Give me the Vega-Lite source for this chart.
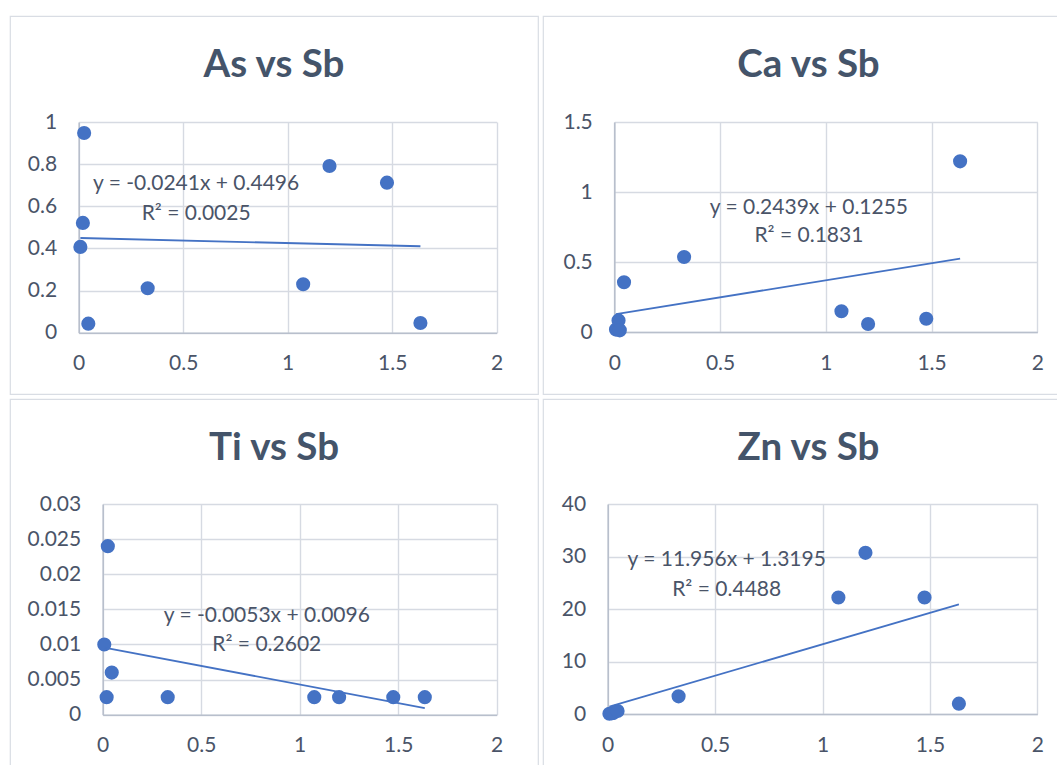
{
  "$schema": "https://vega.github.io/schema/vega-lite/v6.json",
  "background": "white",
  "padding": {"left": 9, "top": 15, "right": 0, "bottom": 0},
  "spacing": 3,
  "datasets": {
    "samples": [
      {"Sb": 0.008, "As": 0.407, "Ca": 0.017, "Ti": 0.010, "Zn": 0.05},
      {"Sb": 0.02, "As": 0.521, "Ca": 0.083, "Ti": 0.0025, "Zn": 0.15},
      {"Sb": 0.026, "As": 0.948, "Ca": 0.012, "Ti": 0.024, "Zn": 0.2},
      {"Sb": 0.046, "As": 0.043, "Ca": 0.355, "Ti": 0.006, "Zn": 0.57},
      {"Sb": 0.33, "As": 0.211, "Ca": 0.536, "Ti": 0.0025, "Zn": 3.37},
      {"Sb": 1.074, "As": 0.230, "Ca": 0.148, "Ti": 0.0025, "Zn": 22.2},
      {"Sb": 1.2, "As": 0.791, "Ca": 0.057, "Ti": 0.0025, "Zn": 30.7},
      {"Sb": 1.475, "As": 0.712, "Ca": 0.095, "Ti": 0.0025, "Zn": 22.2},
      {"Sb": 1.635, "As": 0.046, "Ca": 1.219, "Ti": 0.0025, "Zn": 1.97}
    ]
  },
  "config": {
    "font": "Lato",
    "view": {"stroke": "#d9dde4", "strokeWidth": 1.2},
    "axis": {
      "gridColor": "#d6dae2", "gridWidth": 1.4,
      "domainColor": "#b8bfcc", "domainWidth": 1.6,
      "ticks": false, "labelFont": "Lato", "labelFontSize": 21,
      "labelColor": "#4a5468", "format": "~r", "labelOverlap": false, "labelFlush": false
    },
    "axisY": {"labelPadding": 22},
    "axisX": {"labelPadding": 20},
    "title": {"font": "Lato", "fontSize": 38.5, "fontWeight": "bold", "color": "#44546a", "anchor": "middle", "baseline": "alphabetic", "offset": -69}
  },
  "vconcat": [
    {
      "spacing": 3,
      "hconcat": [
        {
          "width": 528, "height": 378,
          "title": {"text": "As vs Sb"},
          "resolve": {"axis": {"x": "independent"}},
          "layer": [
            {"data": {"name": "samples"}, "mark": {"type": "circle", "size": 200, "color": "#4472c4", "opacity": 1},
             "encoding": {
               "x": {"field": "Sb", "type": "quantitative", "scale": {"domain": [0, 2], "range": [68.7, 486.7], "nice": false, "zero": false}, "axis": {"orient": "bottom", "values": [0, 0.5, 1, 1.5, 2], "offset": -61.3, "grid": false, "title": null}},
               "y": {"field": "As", "type": "quantitative", "scale": {"domain": [0, 1], "range": [316.7, 106], "nice": false, "zero": false}, "axis": {"values": [0, 0.2, 0.4, 0.6, 0.8, 1], "offset": -68.7, "grid": true, "title": null}}
             }},
            {"data": {"values": [{"Sb": 0.008, "As": 0.4494}, {"Sb": 1.635, "As": 0.4102}]}, "mark": {"type": "line", "color": "#4472c4", "strokeWidth": 1.8},
             "encoding": {
               "x": {"field": "Sb", "type": "quantitative", "scale": {"domain": [0, 2], "range": [68.7, 486.7], "nice": false, "zero": false}, "axis": {"orient": "top", "values": [0, 0.5, 1, 1.5, 2], "offset": -106, "grid": true, "labels": false, "domain": false, "title": null}},
               "y": {"field": "As", "type": "quantitative", "scale": {"domain": [0, 1], "range": [316.7, 106], "nice": false, "zero": false}, "axis": {"values": [0, 0.2, 0.4, 0.6, 0.8, 1], "offset": -68.7, "grid": true, "title": null}}
             }},
            {"data": {"values": [{"line": "y = -0.0241x + 0.4496"}]}, "mark": {"type": "text", "fontSize": 21, "color": "#4a5468", "align": "center", "baseline": "middle"},
             "encoding": {
               "x": {"datum": 0.562, "type": "quantitative", "scale": {"domain": [0, 2], "range": [68.7, 486.7], "nice": false, "zero": false}, "axis": null},
               "y": {"datum": 0.704, "type": "quantitative", "scale": {"domain": [0, 1], "range": [316.7, 106], "nice": false, "zero": false}, "axis": {"values": [0, 0.2, 0.4, 0.6, 0.8, 1], "offset": -68.7, "grid": true, "title": null}},
               "text": {"field": "line"}
             }},
            {"data": {"values": [{"line": "R² = 0.0025"}]}, "mark": {"type": "text", "fontSize": 21, "color": "#4a5468", "align": "center", "baseline": "middle"},
             "encoding": {
               "x": {"datum": 0.562, "type": "quantitative", "scale": {"domain": [0, 2], "range": [68.7, 486.7], "nice": false, "zero": false}, "axis": null},
               "y": {"datum": 0.565, "type": "quantitative", "scale": {"domain": [0, 1], "range": [316.7, 106], "nice": false, "zero": false}, "axis": {"values": [0, 0.2, 0.4, 0.6, 0.8, 1], "offset": -68.7, "grid": true, "title": null}},
               "text": {"field": "line"}
             }}
          ]
        },
        {
          "width": 531, "height": 378,
          "title": {"text": "Ca vs Sb"},
          "resolve": {"axis": {"x": "independent"}},
          "layer": [
            {"data": {"name": "samples"}, "mark": {"type": "circle", "size": 200, "color": "#4472c4", "opacity": 1},
             "encoding": {
               "x": {"field": "Sb", "type": "quantitative", "scale": {"domain": [0, 2], "range": [71.3, 494.3], "nice": false, "zero": false}, "axis": {"orient": "bottom", "values": [0, 0.5, 1, 1.5, 2], "offset": -62, "grid": false, "title": null}},
               "y": {"field": "Ca", "type": "quantitative", "scale": {"domain": [0, 1.5], "range": [316, 106], "nice": false, "zero": false}, "axis": {"values": [0, 0.5, 1, 1.5], "offset": -71.3, "grid": true, "title": null}}
             }},
            {"data": {"values": [{"Sb": 0.008, "Ca": 0.1275}, {"Sb": 1.635, "Ca": 0.5243}]}, "mark": {"type": "line", "color": "#4472c4", "strokeWidth": 1.8},
             "encoding": {
               "x": {"field": "Sb", "type": "quantitative", "scale": {"domain": [0, 2], "range": [71.3, 494.3], "nice": false, "zero": false}, "axis": {"orient": "top", "values": [0, 0.5, 1, 1.5, 2], "offset": -106, "grid": true, "labels": false, "domain": false, "title": null}},
               "y": {"field": "Ca", "type": "quantitative", "scale": {"domain": [0, 1.5], "range": [316, 106], "nice": false, "zero": false}, "axis": {"values": [0, 0.5, 1, 1.5], "offset": -71.3, "grid": true, "title": null}}
             }},
            {"data": {"values": [{"line": "y = 0.2439x + 0.1255"}]}, "mark": {"type": "text", "fontSize": 21, "color": "#4a5468", "align": "center", "baseline": "middle"},
             "encoding": {
               "x": {"datum": 0.92, "type": "quantitative", "scale": {"domain": [0, 2], "range": [71.3, 494.3], "nice": false, "zero": false}, "axis": null},
               "y": {"datum": 0.888, "type": "quantitative", "scale": {"domain": [0, 1.5], "range": [316, 106], "nice": false, "zero": false}, "axis": {"values": [0, 0.5, 1, 1.5], "offset": -71.3, "grid": true, "title": null}},
               "text": {"field": "line"}
             }},
            {"data": {"values": [{"line": "R² = 0.1831"}]}, "mark": {"type": "text", "fontSize": 21, "color": "#4a5468", "align": "center", "baseline": "middle"},
             "encoding": {
               "x": {"datum": 0.92, "type": "quantitative", "scale": {"domain": [0, 2], "range": [71.3, 494.3], "nice": false, "zero": false}, "axis": null},
               "y": {"datum": 0.686, "type": "quantitative", "scale": {"domain": [0, 1.5], "range": [316, 106], "nice": false, "zero": false}, "axis": {"values": [0, 0.5, 1, 1.5], "offset": -71.3, "grid": true, "title": null}},
               "text": {"field": "line"}
             }}
          ]
        }
      ]
    },
    {
      "spacing": 3,
      "hconcat": [
        {
          "width": 528, "height": 378,
          "title": {"text": "Ti vs Sb"},
          "resolve": {"axis": {"x": "independent"}},
          "layer": [
            {"data": {"name": "samples"}, "mark": {"type": "circle", "size": 200, "color": "#4472c4", "opacity": 1},
             "encoding": {
               "x": {"field": "Sb", "type": "quantitative", "scale": {"domain": [0, 2], "range": [92.7, 486.7], "nice": false, "zero": false}, "axis": {"orient": "bottom", "values": [0, 0.5, 1, 1.5, 2], "offset": -62.3, "grid": false, "title": null}},
               "y": {"field": "Ti", "type": "quantitative", "scale": {"domain": [0, 0.03], "range": [315.7, 105], "nice": false, "zero": false}, "axis": {"values": [0, 0.005, 0.01, 0.015, 0.02, 0.025, 0.03], "offset": -92.7, "grid": true, "title": null}}
             }},
            {"data": {"values": [{"Sb": 0.008, "Ti": 0.00956}, {"Sb": 1.635, "Ti": 0.000934}]}, "mark": {"type": "line", "color": "#4472c4", "strokeWidth": 1.8},
             "encoding": {
               "x": {"field": "Sb", "type": "quantitative", "scale": {"domain": [0, 2], "range": [92.7, 486.7], "nice": false, "zero": false}, "axis": {"orient": "top", "values": [0, 0.5, 1, 1.5, 2], "offset": -105, "grid": true, "labels": false, "domain": false, "title": null}},
               "y": {"field": "Ti", "type": "quantitative", "scale": {"domain": [0, 0.03], "range": [315.7, 105], "nice": false, "zero": false}, "axis": {"values": [0, 0.005, 0.01, 0.015, 0.02, 0.025, 0.03], "offset": -92.7, "grid": true, "title": null}}
             }},
            {"data": {"values": [{"line": "y = -0.0053x + 0.0096"}]}, "mark": {"type": "text", "fontSize": 21, "color": "#4a5468", "align": "center", "baseline": "middle"},
             "encoding": {
               "x": {"datum": 0.833, "type": "quantitative", "scale": {"domain": [0, 2], "range": [92.7, 486.7], "nice": false, "zero": false}, "axis": null},
               "y": {"datum": 0.01401, "type": "quantitative", "scale": {"domain": [0, 0.03], "range": [315.7, 105], "nice": false, "zero": false}, "axis": {"values": [0, 0.005, 0.01, 0.015, 0.02, 0.025, 0.03], "offset": -92.7, "grid": true, "title": null}},
               "text": {"field": "line"}
             }},
            {"data": {"values": [{"line": "R² = 0.2602"}]}, "mark": {"type": "text", "fontSize": 21, "color": "#4a5468", "align": "center", "baseline": "middle"},
             "encoding": {
               "x": {"datum": 0.833, "type": "quantitative", "scale": {"domain": [0, 2], "range": [92.7, 486.7], "nice": false, "zero": false}, "axis": null},
               "y": {"datum": 0.00988, "type": "quantitative", "scale": {"domain": [0, 0.03], "range": [315.7, 105], "nice": false, "zero": false}, "axis": {"values": [0, 0.005, 0.01, 0.015, 0.02, 0.025, 0.03], "offset": -92.7, "grid": true, "title": null}},
               "text": {"field": "line"}
             }}
          ]
        },
        {
          "width": 531, "height": 378,
          "title": {"text": "Zn vs Sb"},
          "resolve": {"axis": {"x": "independent"}},
          "layer": [
            {"data": {"name": "samples"}, "mark": {"type": "circle", "size": 200, "color": "#4472c4", "opacity": 1},
             "encoding": {
               "x": {"field": "Sb", "type": "quantitative", "scale": {"domain": [0, 2], "range": [64.7, 494.3], "nice": false, "zero": false}, "axis": {"orient": "bottom", "values": [0, 0.5, 1, 1.5, 2], "offset": -63, "grid": false, "title": null}},
               "y": {"field": "Zn", "type": "quantitative", "scale": {"domain": [0, 40], "range": [315, 105], "nice": false, "zero": false}, "axis": {"values": [0, 10, 20, 30, 40], "offset": -64.7, "grid": true, "title": null}}
             }},
            {"data": {"values": [{"Sb": 0.008, "Zn": 1.415}, {"Sb": 1.635, "Zn": 20.868}]}, "mark": {"type": "line", "color": "#4472c4", "strokeWidth": 1.8},
             "encoding": {
               "x": {"field": "Sb", "type": "quantitative", "scale": {"domain": [0, 2], "range": [64.7, 494.3], "nice": false, "zero": false}, "axis": {"orient": "top", "values": [0, 0.5, 1, 1.5, 2], "offset": -105, "grid": true, "labels": false, "domain": false, "title": null}},
               "y": {"field": "Zn", "type": "quantitative", "scale": {"domain": [0, 40], "range": [315, 105], "nice": false, "zero": false}, "axis": {"values": [0, 10, 20, 30, 40], "offset": -64.7, "grid": true, "title": null}}
             }},
            {"data": {"values": [{"line": "y = 11.956x + 1.3195"}]}, "mark": {"type": "text", "fontSize": 21, "color": "#4a5468", "align": "center", "baseline": "middle"},
             "encoding": {
               "x": {"datum": 0.554, "type": "quantitative", "scale": {"domain": [0, 2], "range": [64.7, 494.3], "nice": false, "zero": false}, "axis": null},
               "y": {"datum": 29.28, "type": "quantitative", "scale": {"domain": [0, 40], "range": [315, 105], "nice": false, "zero": false}, "axis": {"values": [0, 10, 20, 30, 40], "offset": -64.7, "grid": true, "title": null}},
               "text": {"field": "line"}
             }},
            {"data": {"values": [{"line": "R² = 0.4488"}]}, "mark": {"type": "text", "fontSize": 21, "color": "#4a5468", "align": "center", "baseline": "middle"},
             "encoding": {
               "x": {"datum": 0.554, "type": "quantitative", "scale": {"domain": [0, 2], "range": [64.7, 494.3], "nice": false, "zero": false}, "axis": null},
               "y": {"datum": 23.68, "type": "quantitative", "scale": {"domain": [0, 40], "range": [315, 105], "nice": false, "zero": false}, "axis": {"values": [0, 10, 20, 30, 40], "offset": -64.7, "grid": true, "title": null}},
               "text": {"field": "line"}
             }}
          ]
        }
      ]
    }
  ]
}
